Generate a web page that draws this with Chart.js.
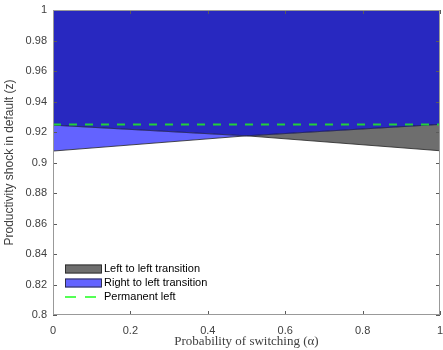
<!DOCTYPE html>
<html>
<head>
<meta charset="utf-8">
<script src="https://cdn.jsdelivr.net/npm/chart.js@4.4.1/dist/chart.umd.min.js"></script>
<style>
  html, body { margin: 0; padding: 0; background: #fff; }
  #wrap { width: 443px; height: 350px; }
</style>
</head>
<body>
<div id="wrap"><canvas id="chart" width="443" height="350"></canvas></div>
<script>
// values
const alpha = [0, 0.5, 1];
const risingEdge = [0.9075, 0.9175, 0.925];   // bottom of right->left, top of left->left
const fallingEdge = [0.9245, 0.9175, 0.9077]; // top of right->left, bottom of left->left
const permanentLeft = 0.925;
const xTicks = [0, 0.2, 0.4, 0.6, 0.8, 1];
const yTicks = [0.8, 0.82, 0.84, 0.86, 0.88, 0.9, 0.92, 0.94, 0.96, 0.98, 1];
const legendLabels = ['Left to left transition', 'Right to left transition', 'Permanent left'];

const darkBlue = '#2828c0';
const lightBlue = '#6363ff';
const grey = '#6e6e6e';
const green = '#22d03a';

const pts = (xs, ys) => xs.map((x, i) => ({ x: x, y: ys[i] }));
const topBound = alpha.map((a, i) => Math.max(risingEdge[i], fallingEdge[i]));

const ctx = document.getElementById('chart').getContext('2d');

// inward tick marks on all four sides + box
const boxPlugin = {
    id: 'box',
    afterDatasetsDraw(chart) {
        const c = chart.ctx;
        const a = chart.chartArea;
        const xs = chart.scales.x;
        const ys = chart.scales.y;
        c.save();
        c.strokeStyle = '#5a5a5a';
        c.lineWidth = 1;
        c.beginPath();
        xTicks.forEach(v => {
            const px = Math.round(xs.getPixelForValue(v)) + 0.5;
            c.moveTo(px, a.bottom); c.lineTo(px, a.bottom - 4);
            c.moveTo(px, a.top); c.lineTo(px, a.top + 4);
        });
        yTicks.forEach(v => {
            const py = Math.round(ys.getPixelForValue(v)) + 0.5;
            c.moveTo(a.left, py); c.lineTo(a.left + 4, py);
            c.moveTo(a.right, py); c.lineTo(a.right - 4, py);
        });
        c.stroke();
        c.strokeStyle = '#999';
        c.strokeRect(Math.round(a.left) + 0.5, Math.round(a.top) + 0.5,
            Math.round(a.right - a.left) - 1, Math.round(a.bottom - a.top) - 1);
        c.restore();
    }
};

// legend inside the axes, bottom left
const legendPlugin = {
    id: 'innerLegend',
    afterDraw(chart) {
        const c = chart.ctx;
        const a = chart.chartArea;
        const sx = a.left + 12, sw = 37, sh = 9, tx = a.left + 51;
        const rows = [a.bottom - 46, a.bottom - 32, a.bottom - 18];
        c.save();
        c.font = '11px "Liberation Sans", Arial, sans-serif';
        c.textBaseline = 'middle';
        [grey, lightBlue].forEach((col, i) => {
            c.fillStyle = col;
            c.fillRect(sx, rows[i] - sh / 2, sw, sh);
            c.strokeStyle = '#222';
            c.lineWidth = 0.8;
            c.strokeRect(sx + 0.5, rows[i] - sh / 2 + 0.5, sw - 1, sh - 1);
        });
        c.strokeStyle = '#55ff55';
        c.lineWidth = 2;
        c.setLineDash([11, 9]);
        c.beginPath();
        c.moveTo(sx, rows[2]); c.lineTo(sx + sw, rows[2]);
        c.stroke();
        c.setLineDash([]);
        c.fillStyle = '#000';
        legendLabels.forEach((t, i) => c.fillText(t, tx, rows[i]));
        c.restore();
    }
};

const chart = new Chart(ctx, {
    type: 'line',
    data: {
        datasets: [{
            label: 'Permanent left',
            data: [{ x: 0, y: permanentLeft }, { x: 1, y: permanentLeft }],
            borderColor: green,
            borderWidth: 2,
            borderDash: [8, 8],
            fill: false,
            pointRadius: 0
        }, {
            label: 'Right to right',
            data: pts(alpha, topBound),
            borderColor: '#1a1a70',
            borderWidth: 0.6,
            backgroundColor: darkBlue,
            fill: 'end',
            pointRadius: 0
        }, {
            label: 'Right to left transition',
            data: pts(alpha.slice(0, 2), fallingEdge.slice(0, 2)),
            borderColor: '#333',
            borderWidth: 0.6,
            backgroundColor: lightBlue,
            fill: '+1',
            pointRadius: 0
        }, {
            label: 'rl_low',
            data: pts(alpha.slice(0, 2), risingEdge.slice(0, 2)),
            borderColor: '#222',
            borderWidth: 0.8,
            fill: false,
            pointRadius: 0
        }, {
            label: 'Left to left transition',
            data: pts(alpha.slice(1), risingEdge.slice(1)),
            borderColor: '#222',
            borderWidth: 0.6,
            backgroundColor: grey,
            fill: '+1',
            pointRadius: 0
        }, {
            label: 'll_low',
            data: pts(alpha.slice(1), fallingEdge.slice(1)),
            borderColor: '#222',
            borderWidth: 0.8,
            fill: false,
            pointRadius: 0
        }]
    },
    options: {
        responsive: false,
        animation: false,
        layout: { padding: { top: 10, right: 3, left: 0, bottom: 0 } },
        plugins: {
            legend: { display: false },
            tooltip: { enabled: false },
            filler: { drawTime: 'beforeDatasetsDraw' }
        },
        scales: {
            x: {
                type: 'linear',
                min: 0,
                max: 1,
                afterFit: s => { s.height = 35; s.paddingLeft = 0; s.paddingRight = 0; },
                afterBuildTicks: s => { s.ticks = xTicks.map(v => ({ value: v })); },
                grid: { display: false, drawTicks: false },
                border: { display: false },
                ticks: {
                    padding: 9,
                    maxRotation: 0,
                    color: '#404040',
                    font: { family: '"Liberation Sans", Arial, sans-serif', size: 11 },
                    callback: v => String(+v.toFixed(2))
                },
                title: {
                    display: true,
                    text: 'Probability of switching (\u03b1)',
                    color: '#404040',
                    padding: { top: 0, bottom: 1 },
                    font: { family: '"Liberation Serif", "Times New Roman", serif', size: 13 }
                }
            },
            y: {
                type: 'linear',
                min: 0.8,
                max: 1,
                afterFit: s => { s.width = 53; s.paddingTop = 0; s.paddingBottom = 0; },
                afterBuildTicks: s => { s.ticks = yTicks.map(v => ({ value: v })); },
                grid: { display: false, drawTicks: false },
                border: { display: false },
                ticks: {
                    padding: 6,
                    color: '#404040',
                    font: { family: '"Liberation Sans", Arial, sans-serif', size: 11 },
                    callback: v => String(+v.toFixed(2))
                },
                title: {
                    display: true,
                    text: 'Productivity shock in default (z)',
                    color: '#404040',
                    padding: { top: 2, bottom: 0 },
                    font: { family: '"Liberation Sans", Arial, sans-serif', size: 12 }
                }
            }
        }
    },
    plugins: [boxPlugin, legendPlugin]
});
</script>
</body>
</html>
